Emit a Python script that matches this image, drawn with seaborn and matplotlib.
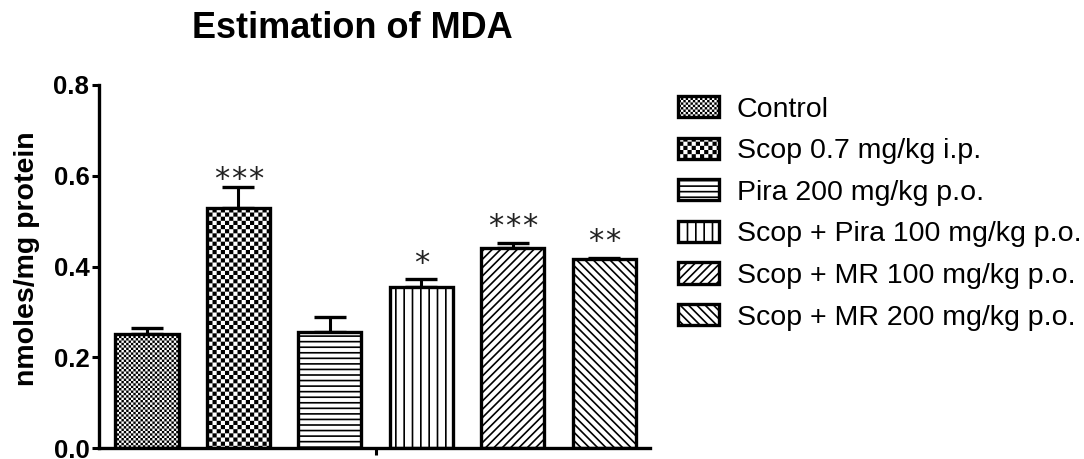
import warnings
warnings.filterwarnings("ignore")

import numpy as np
import matplotlib
matplotlib.use("Agg")
import matplotlib.pyplot as plt
import matplotlib.hatch as mhatch
from matplotlib.path import Path as MPath
import seaborn as sns

# ─── data ────────────────────────────────────────────────────────────────────
groups = ["Control", "Scop 0.7 mg/kg i.p.", "Pira 200 mg/kg p.o.",
          "Scop + Pira 100 mg/kg p.o.", "Scop + MR 100 mg/kg p.o.",
          "Scop + MR 200 mg/kg p.o."]
mda_mean = [0.252, 0.529, 0.256, 0.355, 0.441, 0.416]
mda_sem = [0.013, 0.046, 0.033, 0.017, 0.011, 0.003]
stars = ["", "***", "", "*", "***", "**"]

# ─── style ───────────────────────────────────────────────────────────────────
HATCHES = ["*******", "****", "---", "||", "////", "\\\\\\\\"]
STAR_PAD = [0, 3, 0, 9, 10, 10]   # points above error cap

sns.set_theme(style="white")
plt.rcParams["font.family"] = ["Liberation Sans", "DejaVu Sans"]
plt.rcParams["hatch.linewidth"] = 1.2
plt.rcParams["hatch.color"] = "black"
for key in ["text.color", "axes.labelcolor", "xtick.color", "ytick.color"]:
    plt.rcParams[key] = "black"


class CheckerHatch(mhatch.HatchPatternBase):
    """'*' in a hatch string -> checkerboard of filled squares."""

    def __init__(self, hatch, density):
        self.n = hatch.count("*") * density
        self.num_vertices = (self.n * self.n // 2) * 5
        self.filled = True

    def set_vertices_and_codes(self, vertices, codes):
        n = self.n
        d = plt.rcParams["hatch.linewidth"] / 72 / 2
        k = 0
        for i in range(n):
            for j in range(n):
                if (i + j) % 2:
                    continue
                x0, y0 = i / n + d, j / n + d
                x1, y1 = (i + 1) / n - d, (j + 1) / n - d
                vertices[k:k + 5] = [(x0, y0), (x1, y0), (x1, y1), (x0, y1), (x0, y0)]
                codes[k:k + 5] = [MPath.MOVETO, MPath.LINETO, MPath.LINETO,
                                  MPath.LINETO, MPath.CLOSEPOLY]
                k += 5


mhatch._hatch_types = [t for t in mhatch._hatch_types if t is not mhatch.Stars] + [CheckerHatch]

fig = plt.figure(figsize=(10.84, 4.59), dpi=100)
ax = fig.add_axes([99 / 1084, 11 / 459, 551 / 1084, 363 / 459])

sns.barplot(x=groups, y=mda_mean, order=groups, color="white", width=0.69,
            edgecolor="black", linewidth=2.4, saturation=1, ax=ax, zorder=2)

bars = ax.patches[:len(groups)]
for bar, h in zip(bars, HATCHES):
    bar.set_hatch(h)
    bar.set_facecolor("white")

xpos = np.arange(len(groups))
ax.errorbar(xpos, mda_mean, yerr=[np.zeros(len(groups)), mda_sem], fmt="none",
            ecolor="black", elinewidth=2.2, capsize=11.5, capthick=2.4, zorder=1)

# significance stars
for x, m, s, st, pad in zip(xpos, mda_mean, mda_sem, stars, STAR_PAD):
    k = len(st)
    for i in range(k):
        ax.annotate("*", xy=(x, m + s), xytext=((i - (k - 1) / 2) * 12.2, pad - 4),
                    textcoords="offset points", ha="center", va="baseline",
                    fontsize=22, family="DejaVu Sans", color="#222222")

ax.set_xlim(-0.525, 5.5)
ax.set_ylim(0, 0.8)
ax.set_yticks([0.0, 0.2, 0.4, 0.6, 0.8])
ax.set_yticklabels(["0.0", "0.2", "0.4", "0.6", "0.8"])
ax.set_xticks([2.5])
ax.set_xticklabels([""])
ax.tick_params(axis="both", direction="out", length=5, width=2.2, color="black",
               left=True, bottom=True, labelsize=18.5, pad=2)
for lab in ax.get_yticklabels():
    lab.set_fontweight("bold")
sns.despine(ax=ax)
for side in ["left", "bottom"]:
    ax.spines[side].set_linewidth(2.4)
    ax.spines[side].set_color("black")

ax.set_ylabel("nmoles/mg protein", fontsize=20.5, fontweight="bold")
ax.yaxis.set_label_coords((40 - 99) / 551, (448 - 259) / 363)

fig.text(352 / 1084, 1 - 28 / 459, "Estimation of MDA", ha="center", va="center",
         fontsize=26, fontweight="bold")

leg = fig.legend(handles=bars, labels=groups, loc="upper left",
                 bbox_to_anchor=(678 / 1084, 1 - 96 / 459), frameon=False,
                 fontsize=20.5, handlelength=1.44, handleheight=0.77,
                 handletextpad=0.63, labelspacing=0.53, borderpad=0, borderaxespad=0)

plt.savefig("out.png", dpi=100)
